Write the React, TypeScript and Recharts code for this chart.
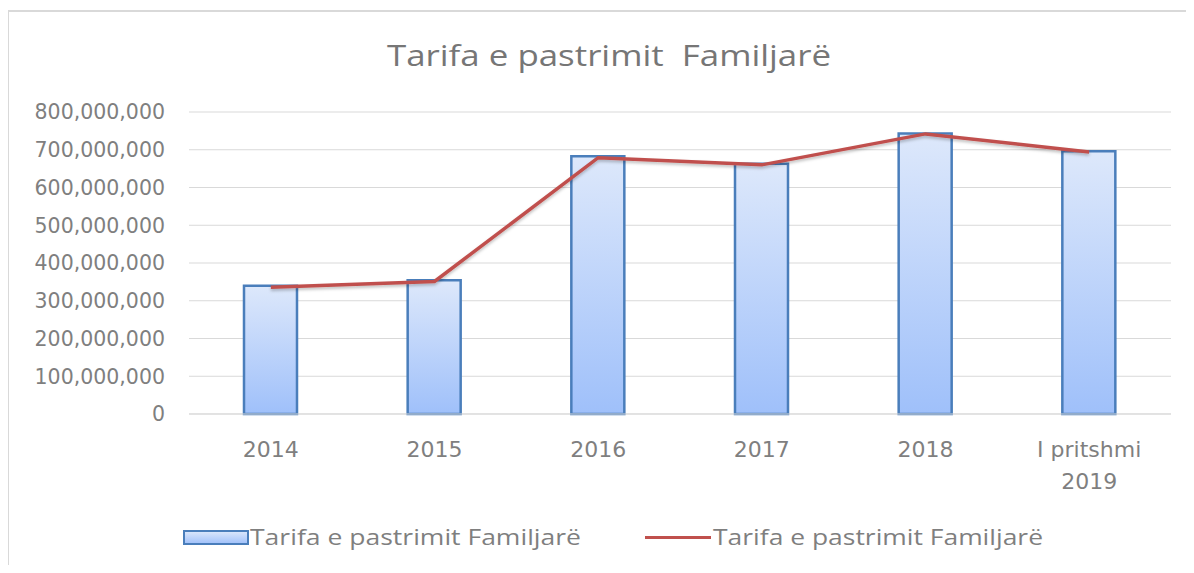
import React from 'react';
import { ComposedChart, Bar, Line, XAxis, YAxis, CartesianGrid, Legend } from 'recharts';

// values (lek)
const categories = ['2014', '2015', '2016', '2017', '2018', 'I pritshmi\n2019'];
const barValues = [340000000, 354000000, 683000000, 663000000, 743000000, 696000000];
const lineValues = [336000000, 351000000, 679000000, 660000000, 742000000, 694000000];
const yTicks = [0, 100000000, 200000000, 300000000, 400000000, 500000000, 600000000, 700000000, 800000000];
const seriesName = 'Tarifa e pastrimit Familjarë';
const title = 'Tarifa e pastrimit  Familjarë';

const data = categories.map((c, i) => ({ cat: c, bar: barValues[i], line: lineValues[i] }));

const grey = '#7f7f7f';
const tickFont = "'DejaVu Sans', sans-serif";
const textFont = "'Open Sans', sans-serif";

const XTick = (props: any) => {
  const { x, y, payload } = props;
  const lines = String(payload.value).split('\n');
  return (
    <g>
      {lines.map((l: string, i: number) => (
        <text key={i} x={x} y={y + 41 + i * 32} textAnchor="middle" fill={grey} fontSize={22} fontFamily={tickFont}>
          {l}
        </text>
      ))}
    </g>
  );
};

const YTick = (props: any) => {
  const { x, y, payload } = props;
  return (
    <text x={x} y={y} dy="0.36em" textAnchor="end" fill={grey} fontSize={20.5} fontFamily={tickFont}>
      {Number(payload.value).toLocaleString('en-US')}
    </text>
  );
};

// the source picture is stretched sideways, so the legend text is fitted to its measured width
const LegendContent = () => (
  <svg width={1194} height={43} style={{ display: 'block' }}>
    <defs>
      <linearGradient id="legendFill" x1="0" y1="0" x2="0" y2="1">
        <stop offset="0%" stopColor="#dde8fb" />
        <stop offset="100%" stopColor="#9fc0fa" />
      </linearGradient>
    </defs>
    <rect x={184} y={11} width={64} height={13} fill="url(#legendFill)" stroke="#4a7ebb" strokeWidth={2} />
    <text x={250} y={25} fill={grey} fontSize={21} fontFamily={textFont} textLength={331} lengthAdjust="spacingAndGlyphs">
      {seriesName}
    </text>
    <line x1={645} x2={711} y1={17.5} y2={17.5} stroke="#c0504d" strokeWidth={3} />
    <text x={713} y={25} fill={grey} fontSize={21} fontFamily={textFont} textLength={330} lengthAdjust="spacingAndGlyphs">
      {seriesName}
    </text>
  </svg>
);

export default function App() {
  return (
    <div style={{ position: 'relative', margin: -8, width: 1194, height: 573, background: '#fff', overflow: 'hidden' }}>
      <div
        style={{
          position: 'absolute',
          left: 7,
          top: 10,
          width: 1300,
          height: 700,
          border: '2px solid #d9d9d9',
          boxSizing: 'border-box',
        }}
      />
      <svg style={{ position: 'absolute', left: 0, top: 0 }} width={1194} height={90}>
        <text
          x={609}
          y={66}
          textAnchor="middle"
          fill="#767676"
          fontSize={30}
          fontFamily={textFont}
          textLength={444}
          lengthAdjust="spacingAndGlyphs"
          style={{ whiteSpace: 'pre' }}
        >
          {title}
        </text>
      </svg>
      <div style={{ position: 'absolute', left: 0, top: 0 }}>
        <ComposedChart width={1194} height={573} data={data} margin={{ top: 112, right: 23, bottom: 0, left: 0 }}>
          <defs>
            <linearGradient id="barFill" x1="0" y1="0" x2="0" y2="1">
              <stop offset="0%" stopColor="#dde8fb" />
              <stop offset="100%" stopColor="#9fc0fa" />
            </linearGradient>
            <filter id="lineShadow" x="-5%" y="-20%" width="110%" height="140%">
              <feDropShadow dx="0" dy="2" stdDeviation="1.5" floodColor="#000" floodOpacity="0.25" />
            </filter>
          </defs>
          <CartesianGrid vertical={false} stroke="#d9d9d9" strokeWidth={1} />
          <XAxis
            dataKey="cat"
            height={159}
            interval={0}
            tick={<XTick />}
            tickLine={false}
            tickSize={0}
            axisLine={{ stroke: '#d9d9d9' }}
          />
          <YAxis
            width={189}
            domain={[0, 800000000]}
            ticks={yTicks}
            tick={<YTick />}
            tickLine={false}
            tickSize={0}
            tickMargin={24}
            axisLine={false}
          />
          <Bar
            dataKey="bar"
            name={seriesName}
            barSize={53}
            fill="url(#barFill)"
            stroke="#4a7ebb"
            strokeWidth={2.5}
            isAnimationActive={false}
          />
          <Line
            dataKey="line"
            name={seriesName}
            type="linear"
            stroke="#c0504d"
            strokeWidth={3.5}
            dot={false}
            activeDot={false}
            style={{ filter: 'url(#lineShadow)' }}
            isAnimationActive={false}
          />
          <Legend
            layout="horizontal"
            verticalAlign="middle"
            align="center"
            content={<LegendContent />}
            wrapperStyle={{ position: 'absolute', top: 520, left: 0, width: 1194 }}
          />
        </ComposedChart>
      </div>
    </div>
  );
}
